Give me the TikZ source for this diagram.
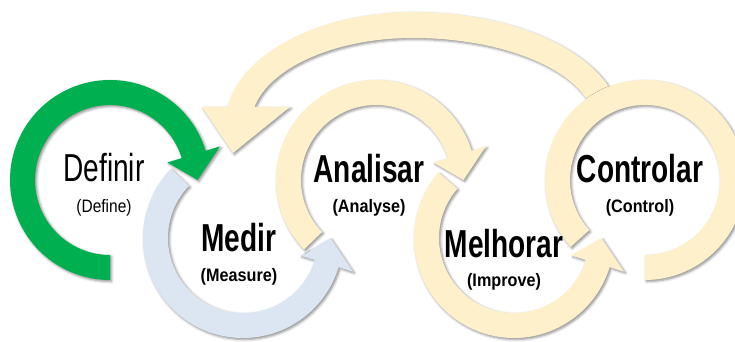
\documentclass[tikz,border=0pt]{standalone}
\usepackage{fontspec}
\setmainfont{Liberation Sans}
\usetikzlibrary{shadows.blur}
\definecolor{defgreen}{HTML}{00B050}
\definecolor{measblue}{HTML}{DCE6F2}
\definecolor{cream}{HTML}{FEF0CB}
\newcommand{\narrowtext}[2]{\scalebox{#1}[1]{#2}}

\begin{document}
\begin{tikzpicture}[x=1pt,y=1pt,
  band/.style={blur shadow={shadow xshift=1.5pt,shadow yshift=-1.5pt,shadow blur radius=2.5pt,shadow opacity=45}},
  title/.style={anchor=base,inner sep=0pt,font=\fontsize{39}{39}\selectfont\bfseries},
  plaintitle/.style={title,font=\fontsize{39}{39}\selectfont},
  sub/.style={anchor=base,inner sep=0pt,font=\fontsize{18}{18}\selectfont\bfseries},
  plainsub/.style={sub,font=\fontsize{18}{18}\selectfont}]
\useasboundingbox (0,0) rectangle (735,342);
\clip (0,0) rectangle (735,342);
% big arc back from Controlar to Medir (wider on the right half)
\begin{scope}[shift={(413,217)}]
\fill[cream,band] ({208*cos(12)},{113*sin(12)})
  arc[start angle=12,end angle=90,x radius=208,y radius=113]
  arc[start angle=90,end angle=170.8,x radius=188,y radius=113]
  -- (-211,18) -- (-180,-28) -- (-123,18)
  -- ({162*cos(168)},{87*sin(168)})
  arc[start angle=168,end angle=90,x radius=162,y radius=87]
  arc[start angle=90,end angle=12,x radius=182,y radius=87] -- cycle;
\end{scope}
% rings: center x / center y / start / head base / tip / colour
\foreach \cx/\cy/\sa/\ea/\ta/\col in {110/162/270/17/0/defgreen,243/104/136/343/360/measblue,
                                     376/162/224/17/0/cream,514/104/139/343/360/cream}{
  \begin{scope}[shift={(\cx,\cy)}]
  \fill[\col,band] (\sa:100) arc[start angle=\sa,end angle=\ea,radius=100]
    -- (\ea:115) -- (\ta:87.5) -- (\ea:60) -- (\ea:75)
    arc[start angle=\ea,end angle=\sa,radius=75] -- cycle;
  \end{scope}
}
% last ring has no head
\begin{scope}[shift={(645,162)}]
\fill[cream,band] (222:100) arc[start angle=222,end angle=-90,radius=100]
  -- (-90:75) arc[start angle=-90,end angle=222,radius=75] -- cycle;
\end{scope}
% labels
\node[plaintitle] (definir) at (104,160) {\narrowtext{0.72}{Definir}};
\node[plainsub] (define) at (104,129) {\narrowtext{0.86}{(Define)}};
\node[title] (medir) at (239,90) {\narrowtext{0.72}{Medir}};
\node[sub] (measure) at (239,60) {\narrowtext{0.9}{(Measure)}};
\node[title] (analisar) at (369,159) {\narrowtext{0.72}{Analisar}};
\node[sub] (analyse) at (369,129) {\narrowtext{0.9}{(Analyse)}};
\node[title] (melhorar) at (504,84) {\narrowtext{0.72}{Melhorar}};
\node[sub] (improve) at (504,55) {\narrowtext{0.9}{(Improve)}};
\node[title] (controlar) at (640,159) {\narrowtext{0.72}{Controlar}};
\node[sub] (control) at (640,129) {\narrowtext{0.9}{(Control)}};
\end{tikzpicture}
\end{document}
